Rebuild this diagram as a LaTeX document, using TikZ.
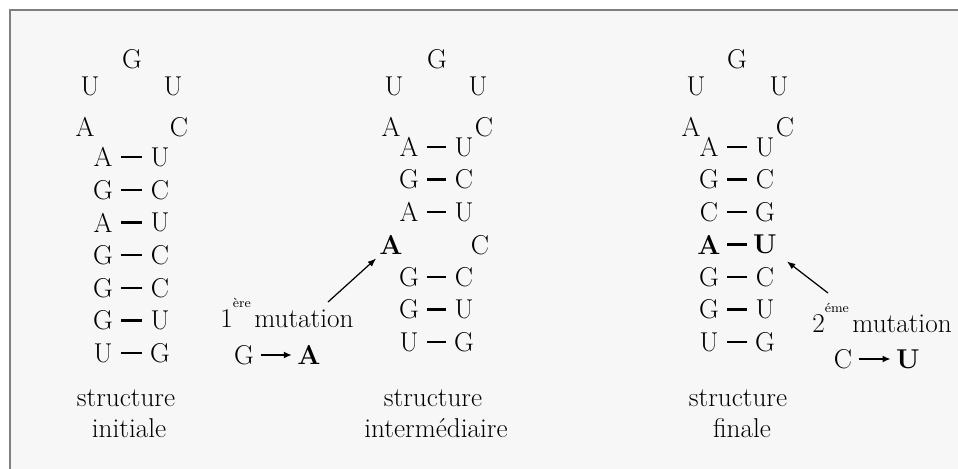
\documentclass[tikz,border=0pt]{standalone}
\usepackage{fontspec}
\usepackage{tikz}
\usetikzlibrary{arrows.meta}
\definecolor{framegray}{RGB}{128,128,128}
\definecolor{panel}{RGB}{247,247,247}
\newcommand{\ordsup}[1]{\raisebox{0.72em}{\fontsize{7.5}{8}\selectfont #1}}

\begin{document}
\begin{tikzpicture}[
  x=0.02cm, y=-0.02cm,
  every node/.style={font=\fontsize{15.5}{18}\selectfont},
  base/.style={inner sep=0pt},
  bond/.style={line width=1.3pt, shorten <=10.4pt, shorten >=10.4pt},
  lbl/.style={inner sep=0pt},
  mut/.style={inner sep=0pt, anchor=base},
  a/.style={-{Latex[length=1.7mm,width=1.3mm]}, line width=0.7pt},
  subst/.style={-{Latex[length=1.6mm,width=1.4mm]}, line width=1pt,
    shorten <=4pt, shorten >=3pt}
]
\useasboundingbox (0,0) rectangle (958,468);
\fill[panel] (10,10) rectangle (975,485);
\draw[framegray, line width=1.2pt] (10,485) -- (10,10) -- (975,10);

% structure initiale
\node[base] (s1g) at (132,59) {G};
\node[base] (s1u1) at (90,86) {U};
\node[base] (s1u2) at (173,86) {U};
\node[base] (s1a) at (85,127) {A};
\node[base] (s1c) at (179,127) {C};
\foreach \l/\r [count=\i] in {A/U,G/C,A/U,G/C,G/C,G/U,U/G} {
  \node[base] (s1l\i) at (103,{157+32.7*(\i-1)}) {\l};
  \node[base] (s1r\i) at (160,{157+32.7*(\i-1)}) {\r};
  \draw[bond] (s1l\i.center) -- (s1r\i.center);
}
\node[lbl] (t1a) at (126,398) {structure};
\node[lbl] (t1b) at (129,428) {initiale};

% structure intermediaire
\node[base] (s2g) at (437,59) {G};
\node[base] (s2u1) at (394,86) {U};
\node[base] (s2u2) at (478,86) {U};
\node[base] (s2a) at (391,127) {A};
\node[base] (s2c) at (484,127) {C};
\foreach \l/\r/\i in {A/U/1,G/C/2,A/U/3,G/C/5,G/U/6,U/G/7} {
  \node[base] (s2l\i) at (409,{147+32.5*(\i-1)}) {\l};
  \node[base] (s2r\i) at (464,{147+32.5*(\i-1)}) {\r};
  \draw[bond] (s2l\i.center) -- (s2r\i.center);
}
\node[base] (s2l4) at (391,245) {\textbf{A}};
\node[base] (s2r4) at (480,245) {C};
\node[lbl] (t2a) at (433,398) {structure};
\node[lbl] (t2b) at (436,428) {intermédiaire};

% structure finale
\node[base] (s3g) at (737,59) {G};
\node[base] (s3u1) at (696,86) {U};
\node[base] (s3u2) at (779,86) {U};
\node[base] (s3a) at (691,127) {A};
\node[base] (s3c) at (785,127) {C};
\foreach \l/\r [count=\i] in {A/U,G/C,C/G,{\textbf{A}}/{\textbf{U}},G/C,G/U,U/G} {
  \node[base] (s3l\i) at (709,{147+32.5*(\i-1)}) {\l};
  \node[base] (s3r\i) at (765,{147+32.5*(\i-1)}) {\r};
  \draw[bond] (s3l\i.center) -- (s3r\i.center);
}
\node[lbl] (t3a) at (738,398) {structure};
\node[lbl] (t3b) at (742,428) {finale};

% mutations
\node[mut] (mut1) at (287,327) {1\ordsup{ère}\kern2pt mutation};
\node[base] (m1from) at (244,355) {G};
\node[base] (m1to) at (309,355) {\textbf{A}};
\draw[subst] (m1from) -- (m1to);
\draw[a, shorten >=3pt] ([shift={(41,-25)}]mut1.base) -- (s2l4);

\node[mut] (mut2) at (882,332) {2\ordsup{éme}\kern2pt mutation};
\node[base] (m2from) at (843,359) {C};
\node[base] (m2to) at (908,359) {\textbf{U}};
\draw[subst] (m2from) -- (m2to);
\draw[a, shorten >=7pt] ([shift={(-54,-39)}]mut2.base) -- (s3r4);
\end{tikzpicture}
\end{document}
